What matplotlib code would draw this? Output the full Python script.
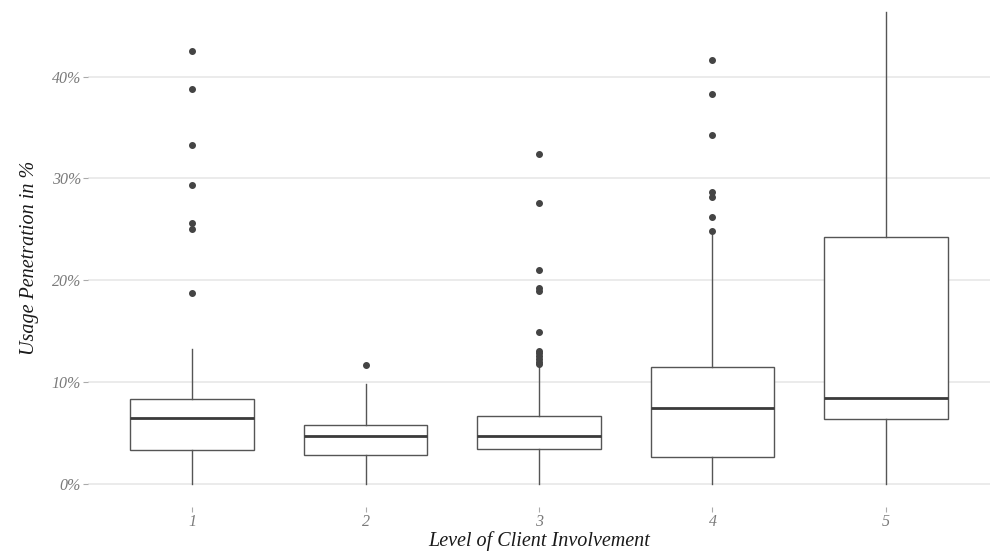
import matplotlib
matplotlib.use("Agg")
import matplotlib.pyplot as plt

# values, in percent
levels = ["1", "2", "3", "4", "5"]
q1 = [3.33, 2.77, 3.43, 2.60, 6.34]
medians = [6.48, 4.68, 4.68, 7.41, 8.39]
q3 = [8.31, 5.79, 6.69, 11.47, 24.24]
whisker_low = [0, 0, 0, 0, 0]
whisker_high = [13.26, 9.76, 11.5, 24.4, 46.4]
outliers = [
    [42.5, 38.8, 33.3, 29.4, 25.6, 25.0, 18.7],
    [11.64],
    [32.4, 27.6, 21.0, 19.2, 18.9, 14.9, 13.0, 12.8, 12.5, 12.2, 12.0, 11.8],
    [41.65, 38.3, 34.25, 28.67, 28.15, 26.2, 24.87],
    [],
]
y_ticks = [0, 10, 20, 30, 40]

plt.rcParams["font.family"] = ["Liberation Serif", "DejaVu Serif"]

fig = plt.figure(figsize=(9.92, 5.52), dpi=100)
ax = fig.add_axes([88 / 992, 1 - 507 / 552, 902 / 992, 499 / 552])

stats = []
for i, lab in enumerate(levels):
    stats.append({
        "label": lab,
        "q1": q1[i],
        "med": medians[i],
        "q3": q3[i],
        "whislo": whisker_low[i],
        "whishi": whisker_high[i],
        "fliers": outliers[i],
    })

line_col = "#555555"
ax.bxp(stats, positions=range(1, len(levels) + 1), widths=0.71,
       showcaps=False, patch_artist=True,
       boxprops=dict(facecolor="white", edgecolor=line_col, linewidth=1.0),
       whiskerprops=dict(color=line_col, linewidth=1.0),
       medianprops=dict(color="#3a3a3a", linewidth=2.0),
       flierprops=dict(marker="o", markersize=4.0, markerfacecolor="#444444",
                       markeredgecolor="#444444"))

ax.set_xlim(0.4, 5.6)
ax.set_ylim(-2.3, 46.75)
ax.set_yticks(y_ticks)
ax.set_yticklabels([f"{t}%" for t in y_ticks])
ax.set_xticks(range(1, len(levels) + 1))
ax.set_xticklabels(levels)

ax.grid(axis="y", color="#e6e6e6", linewidth=1.1)
ax.set_axisbelow(True)
for s in ax.spines.values():
    s.set_visible(False)

ax.tick_params(axis="both", length=3.5, width=0.8, color="#aaaaaa",
               labelcolor="#7a7a7a", labelsize=11.5, pad=1.5)
for t in ax.get_xticklabels() + ax.get_yticklabels():
    t.set_style("italic")

ax.set_xlabel("Level of Client Involvement", fontsize=14.5, style="italic",
              color="#1a1a1a", labelpad=1)
ax.set_ylabel("Usage Penetration in %", fontsize=14.5, style="italic",
              color="#1a1a1a", labelpad=9)

fig.savefig("out.png", dpi=100)
